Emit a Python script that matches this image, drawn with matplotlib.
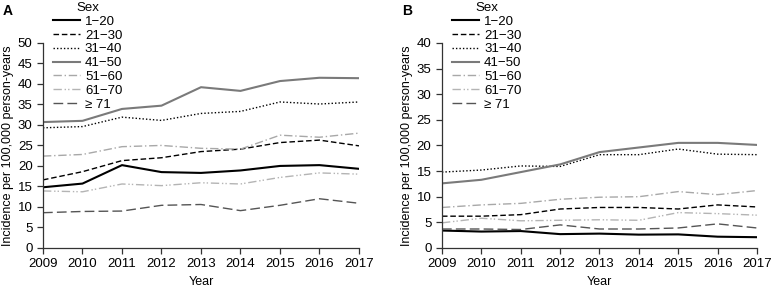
import matplotlib
matplotlib.use("Agg")
import matplotlib.pyplot as plt

plt.rcParams['font.family'] = ['Liberation Sans', 'DejaVu Sans']

years = [2009, 2010, 2011, 2012, 2013, 2014, 2015, 2016, 2017]
groups = ['1\u221220', '21\u221230', '31\u221240', '41\u221250', '51\u221260', '61\u221270', '\u2265 71']

# Panel A
a_1_20 = [14.8, 15.7, 20.2, 18.5, 18.3, 18.9, 20.0, 20.2, 19.3]
a_21_30 = [16.6, 18.6, 21.3, 22.0, 23.5, 24.1, 25.7, 26.3, 24.9]
a_31_40 = [29.3, 29.6, 31.9, 31.1, 32.8, 33.3, 35.6, 35.1, 35.6]
a_41_50 = [30.7, 31.0, 33.9, 34.7, 39.2, 38.3, 40.7, 41.5, 41.4]
a_51_60 = [22.4, 22.8, 24.7, 25.0, 24.3, 24.1, 27.5, 27.0, 28.0]
a_61_70 = [13.9, 13.7, 15.6, 15.2, 15.9, 15.6, 17.2, 18.3, 18.0]
a_71 = [8.6, 8.9, 9.0, 10.4, 10.6, 9.1, 10.4, 12.0, 10.9]

# Panel B
b_1_20 = [3.4, 3.2, 3.3, 2.7, 2.8, 2.6, 2.65, 2.2, 2.1]
b_21_30 = [6.2, 6.2, 6.5, 7.6, 7.9, 7.9, 7.6, 8.4, 8.0]
b_31_40 = [14.8, 15.2, 16.0, 15.9, 18.2, 18.2, 19.3, 18.3, 18.2]
b_41_50 = [12.6, 13.3, 14.8, 16.3, 18.7, 19.6, 20.5, 20.5, 20.1]
b_51_60 = [7.9, 8.4, 8.7, 9.5, 9.9, 10.0, 11.0, 10.4, 11.2]
b_61_70 = [4.9, 5.8, 5.3, 5.4, 5.5, 5.4, 6.9, 6.7, 6.4]
b_71 = [3.7, 3.7, 3.6, 4.5, 3.7, 3.7, 3.9, 4.7, 3.9]

styles = [
    dict(color='black', linestyle='-', linewidth=1.5),
    dict(color='black', linestyle=(0, (4, 2)), linewidth=1.0),
    dict(color='black', linestyle=(0, (1, 1.5)), linewidth=1.0),
    dict(color='#7a7a7a', linestyle='-', linewidth=1.5),
    dict(color='#a8a8a8', linestyle=(0, (6, 2, 1, 2)), linewidth=1.0),
    dict(color='#b4b4b4', linestyle=(0, (6, 2, 1, 1.5, 1, 2)), linewidth=1.0),
    dict(color='#555555', linestyle=(0, (7, 3)), linewidth=1.0),
]

fig = plt.figure(figsize=(7.72, 2.88), dpi=100)
ax_a = fig.add_axes([0.0557, 0.139, 0.4093, 0.712])
ax_b = fig.add_axes([0.5725, 0.139, 0.4081, 0.712])

panels = [
    (ax_a, [a_1_20, a_21_30, a_31_40, a_41_50, a_51_60, a_61_70, a_71], 50, 'A', 0.004, 0.069),
    (ax_b, [b_1_20, b_21_30, b_31_40, b_41_50, b_51_60, b_61_70, b_71], 40, 'B', 0.521, 0.586),
]

for ax, series, ymax, letter, lx, legx in panels:
    for vals, label, st in zip(series, groups, styles):
        ax.plot(years, vals, label=label, **st)
    ax.set_xlim(2009, 2017)
    ax.set_ylim(0, ymax)
    ax.set_xticks(years)
    ax.set_yticks(range(0, ymax + 1, 5))
    for s in ['top', 'right']:
        ax.spines[s].set_visible(False)
    for s in ['left', 'bottom']:
        ax.spines[s].set_color('#333333')
        ax.spines[s].set_linewidth(0.9)
    ax.tick_params(direction='out', length=4, width=0.9, colors='#333333', labelsize=9.5, labelcolor='black')
    ax.set_xlabel('Year', fontsize=9)
    ax.set_ylabel('Incidence per 100,000 person-years', fontsize=9, labelpad=3)
    fig.text(lx, 0.985, letter, fontsize=10, fontweight='bold', va='top', ha='left')
    leg = ax.legend(title='Sex', loc='upper left', bbox_to_anchor=(legx, 0.993),
                    bbox_transform=fig.transFigure, frameon=False, fontsize=9.5,
                    title_fontsize=9.5, handlelength=2.0, labelspacing=0.12,
                    handletextpad=0.4, borderpad=0.0, borderaxespad=0.0)

fig.savefig('out.png', dpi=100)
